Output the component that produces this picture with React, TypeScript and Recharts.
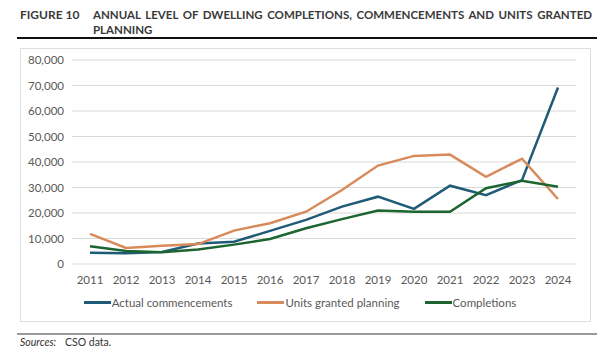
import { LineChart, Line, XAxis, YAxis, CartesianGrid, Legend } from 'recharts';

const years = ['2011', '2012', '2013', '2014', '2015', '2016', '2017', '2018', '2019', '2020', '2021', '2022', '2023', '2024'];
const commencements = [4400, 4200, 4700, 8000, 8700, 13000, 17300, 22500, 26400, 21600, 30700, 27000, 32900, 69200];
const planning = [11800, 6300, 7200, 7800, 13100, 16000, 20500, 29000, 38600, 42400, 42900, 34200, 41300, 25500];
const completions = [7000, 5100, 4600, 5700, 7600, 9800, 14000, 17600, 21000, 20500, 20500, 29700, 32600, 30300];
const yTicks = [0, 10000, 20000, 30000, 40000, 50000, 60000, 70000, 80000];

const series = [
  { key: 'Actual commencements', values: commencements, color: '#1f5b76' },
  { key: 'Units granted planning', values: planning, color: '#d98a5a' },
  { key: 'Completions', values: completions, color: '#1d6530' },
];

const data = years.map((year, i) => {
  const row: Record<string, string | number> = { year };
  series.forEach(s => { row[s.key] = s.values[i]; });
  return row;
});

const FONT = 'Lato, "Open Sans", sans-serif';

function ChartLegend() {
  return (
    <div style={{ display: 'flex', justifyContent: 'center', gap: 25, fontFamily: FONT, fontSize: 11.5, color: '#595959', paddingLeft: 4 }}>
      {series.map(s => (
        <div key={s.key} style={{ display: 'flex', alignItems: 'center' }}>
          <span style={{ display: 'inline-block', width: 27, height: 3, background: s.color, marginRight: 1 }} />
          <span>{s.key}</span>
        </div>
      ))}
    </div>
  );
}

export default function App() {
  return (
    <div style={{ position: 'relative', width: 614, height: 356, background: '#fff', fontFamily: FONT, overflow: 'hidden' }}>
      <style>{'body{margin:0}'}</style>
      <div style={{ position: 'absolute', left: 20, top: 7, fontWeight: 700, fontSize: 12, color: '#3a3a3a' }}>FIGURE 10</div>
      <div style={{ position: 'absolute', left: 93, top: 7, width: 499, fontWeight: 700, fontSize: 11.5, color: '#3a3a3a', lineHeight: '15px' }}>
        <div style={{ whiteSpace: 'nowrap', textAlign: 'justify', textAlignLast: 'justify' }}>ANNUAL LEVEL OF DWELLING COMPLETIONS, COMMENCEMENTS AND UNITS GRANTED</div>
        <div>PLANNING</div>
      </div>
      <div style={{ position: 'absolute', left: 17, top: 37, width: 580, height: 2, background: '#111' }} />
      <div style={{ position: 'absolute', left: 20, top: 48, width: 569, height: 272, border: '1px solid #dedede' }} />
      <div style={{ position: 'absolute', left: 20, top: 48 }}>
        <LineChart width={570} height={273} data={data} margin={{ top: 12, right: 14, left: 0, bottom: 5 }}>
          <CartesianGrid vertical={false} stroke="#d9d9d9" />
          <XAxis
            dataKey="year"
            axisLine={false}
            tickLine={false}
            height={32}
            padding={{ left: 18, right: 18 }}
            tick={{ fontSize: 11.5, fill: '#595959', fontFamily: FONT }}
            tickMargin={6}
            interval={0}
          />
          <YAxis
            width={52}
            domain={[0, 80000]}
            ticks={yTicks}
            axisLine={false}
            tickLine={false}
            tickFormatter={(v: number) => v.toLocaleString('en-US')}
            tick={{ fontSize: 11.5, fill: '#595959', fontFamily: FONT }}
          />
          <Legend verticalAlign="bottom" height={20} content={() => <ChartLegend />} />
          {series.map(s => (
            <Line
              key={s.key}
              type="linear"
              dataKey={s.key}
              stroke={s.color}
              strokeWidth={2.5}
              dot={false}
              isAnimationActive={false}
            />
          ))}
        </LineChart>
      </div>
      <div style={{ position: 'absolute', left: 17, top: 333, width: 580, height: 2, background: '#9a9a9a' }} />
      <div style={{ position: 'absolute', left: 20, top: 336, fontSize: 10.5, color: '#333' }}>
        <span style={{ fontStyle: 'italic' }}>Sources:</span>
        <span style={{ position: 'absolute', left: 45, whiteSpace: 'nowrap' }}>CSO data.</span>
      </div>
    </div>
  );
}
